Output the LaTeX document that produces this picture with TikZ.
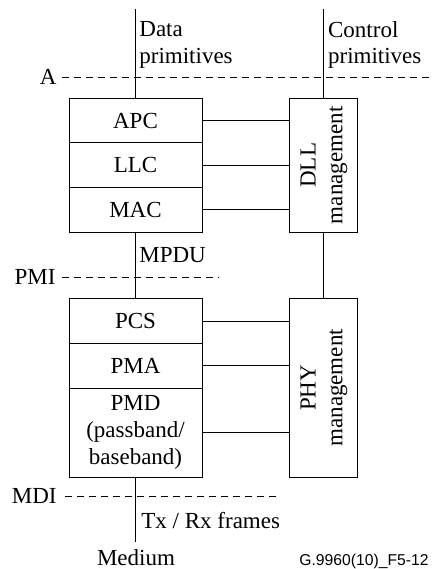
\documentclass[tikz,border=0pt]{standalone}
\usepackage{fontspec}
\setmainfont{Liberation Serif}
\newfontfamily\figfont{Liberation Sans}
\usetikzlibrary{positioning}

\begin{document}
\begin{tikzpicture}[x=1pt, y=-1pt, line width=0.8pt, font=\fontsize{23}{26.7}\selectfont]
	\tikzstyle{layer} = [draw, rectangle, minimum width=133pt, minimum height=44.6pt, inner sep=0pt, outer sep=0pt, align=center]
	\tikzstyle{mgmt} = [draw, rectangle, minimum width=68pt, inner sep=0pt, outer sep=0pt]
	\tikzstyle{lbl} = [inner sep=0pt, align=left]
	\tikzstyle{iface} = [dash pattern=on 7pt off 5pt]

	\useasboundingbox (0,0) rectangle (432,569);

	% data link layer
	\node[layer] (apc) at (135.5,120.5) {APC};
	\node[layer] (llc) [below=0pt of apc] {LLC};
	\node[layer] (mac) [below=0pt of llc] {MAC};
	\node[mgmt, minimum height=134pt] (dll) at (323.7,165.3) {\rotatebox{90}{\begin{tabular}{@{}c@{}}
		DLL \\
		management
	\end{tabular}}};

	% physical layer
	\node[layer] (pcs) at (135.5,321) {PCS};
	\node[layer] (pma) [below=0pt of pcs] {PMA};
	\node[layer, minimum height=89pt] (pmd) [below=0pt of pma] {PMD\\(passband/\\baseband)};
	\node[mgmt, minimum height=179pt] (phy) at (323.7,387.8) {\rotatebox{90}{\begin{tabular}{@{}c@{}}
		PHY \\
		management
	\end{tabular}}};

	\draw (apc) -- (apc -| dll.west);
	\draw (llc) -- (llc -| dll.west);
	\draw (mac) -- (mac -| dll.west);
	\draw (pcs) -- (pcs -| phy.west);
	\draw (pma) -- (pma -| phy.west);
	\draw (pmd) -- (pmd -| phy.west);

	% primitives
	\coordinate (datatop) at (135.5,9);
	\coordinate (ctltop) at (323.7,9);
	\coordinate (medtop) at (135.5,542.3);
	\draw (datatop) -- (apc);
	\draw (ctltop) -- (dll);
	\draw (mac) -- (pcs);
	\draw (dll) -- (phy);
	\draw (pmd) -- (medtop);

	\node[lbl, anchor=north west] (datalbl) at (139,21.3) {Data\\primitives};
	\node[lbl, anchor=north west] (ctllbl) at (327.7,20.8) {Control\\primitives};
	\node[lbl, anchor=base west] (mpdu) at (139,262.3) {MPDU};
	\node[lbl, anchor=base west] (frames) at (141,528.3) {Tx / Rx frames};
	\node[lbl, anchor=base] (medium) at (136,565) {Medium};

	% interfaces
	\node[lbl, inner xsep=5pt, anchor=east] (ifa) at (62,77) {A};
	\node[lbl, inner xsep=6pt, anchor=east] (ifpmi) at (62,277.3) {PMI};
	\node[lbl, inner xsep=8pt, anchor=east] (ifmdi) at (65,496) {MDI};
	\coordinate (aend) at (432,77);
	\coordinate (pmiend) at (219,277.3);
	\coordinate (mdiend) at (279,496);
	\draw[iface] (ifa) -- (aend);
	\draw[iface] (ifpmi) -- (pmiend);
	\draw[iface] (ifmdi) -- (mdiend);

	\node[lbl, anchor=base west, font=\figfont\fontsize{15.7}{18}\selectfont] (figref) at (299,565) {G.9960(10)\_F5-12};
\end{tikzpicture}
\end{document}
